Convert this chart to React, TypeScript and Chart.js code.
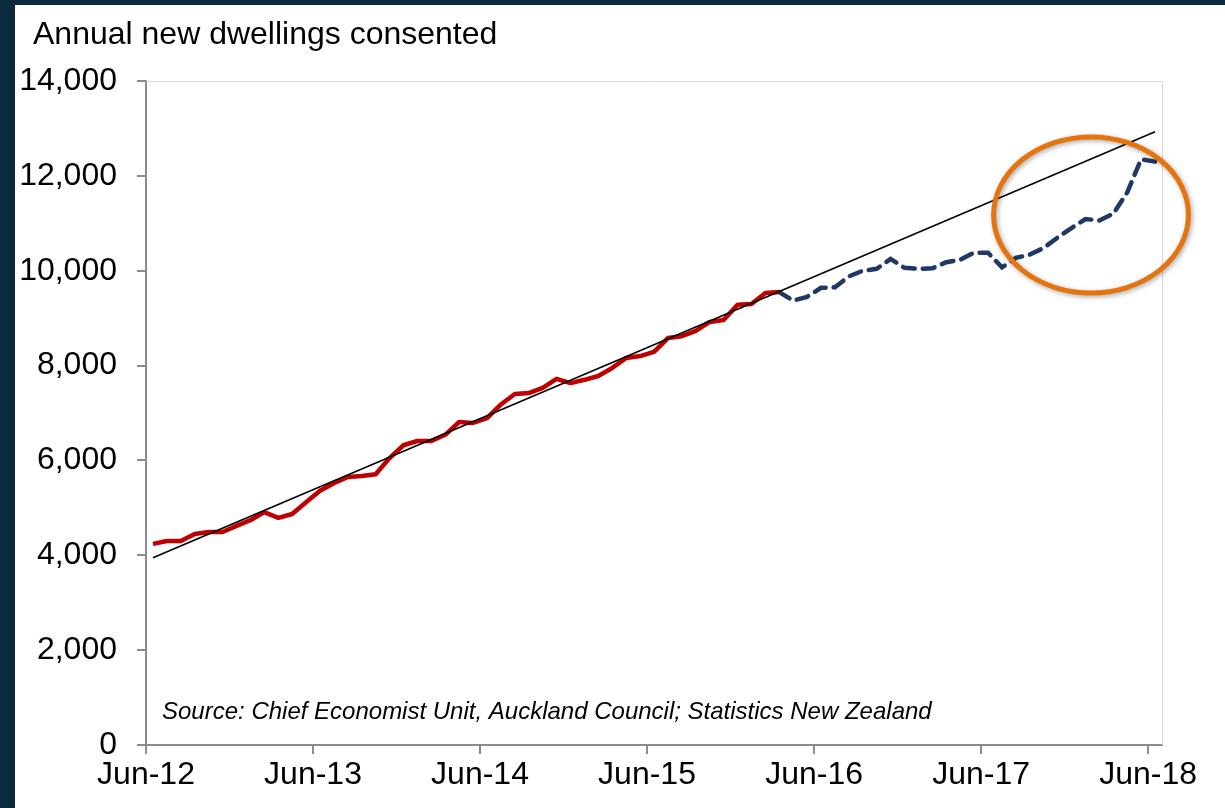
import React, { useEffect, useRef } from "react";
import { Chart, registerables } from "chart.js";

Chart.register(...registerables);

// ---------- data ----------
const TITLE = "Annual new dwellings consented";
const SOURCE = "Source: Chief Economist Unit, Auckland Council; Statistics New Zealand";

// months counted from Jun-12 (0); each month's value sits in the middle of its slot
const X_TICK_MONTHS = [0, 12, 24, 36, 48, 60, 72];
const X_TICK_LABELS = ["Jun-12", "Jun-13", "Jun-14", "Jun-15", "Jun-16", "Jun-17", "Jun-18"];
const Y_TICKS = [0, 2000, 4000, 6000, 8000, 10000, 12000, 14000];

const ACTUAL_START = 0;
const ACTUAL_VALUES = [
  4240, 4300, 4300, 4450, 4490, 4490, 4620, 4740, 4910, 4790, 4870, 5120,
  5360, 5520, 5650, 5670, 5710, 6050, 6320, 6410, 6410, 6540, 6810, 6790,
  6890, 7180, 7400, 7420, 7530, 7720, 7630, 7700, 7780, 7950, 8160, 8200,
  8290, 8580, 8620, 8730, 8920, 8960, 9280, 9300, 9530, 9550,
];

const RECENT_START = 45;
const RECENT_VALUES = [
  9550, 9370, 9450, 9640, 9650, 9880, 10000, 10040, 10250, 10060, 10040, 10050,
  10180, 10230, 10380, 10380, 10070, 10270, 10340, 10480, 10700, 10900, 11090, 11060,
  11200, 11650, 12350, 12300,
];

const TREND_MONTHS = [0.5, 72.5];
const TREND_VALUES = [3950, 12930];

// highlight ellipse (data coordinates)
const HIGHLIGHT_MONTH = 67.9;
const HIGHLIGHT_VALUE = 11175;
const HIGHLIGHT_MONTH_RADIUS = 7.0;
const HIGHLIGHT_VALUE_RADIUS = 1645;

const FONT = '"Liberation Sans", Arial, Helvetica, sans-serif';

const toPoints = (start: number, values: number[]) =>
  values.map((v, i) => ({ x: start + i + 0.5, y: v }));

export default function App() {
  const canvasRef = useRef<HTMLCanvasElement | null>(null);

  useEffect(() => {
    const canvas = canvasRef.current;
    if (!canvas) return;

    const overlay = {
      id: "overlay",
      beforeDatasetsDraw(chart: any) {
        const { ctx, chartArea } = chart;
        ctx.save();
        ctx.strokeStyle = "#d9d9d9";
        ctx.lineWidth = 1;
        ctx.beginPath();
        ctx.moveTo(chartArea.left, chartArea.top + 0.5);
        ctx.lineTo(chartArea.right + 0.5, chartArea.top + 0.5);
        ctx.lineTo(chartArea.right + 0.5, chartArea.bottom);
        ctx.stroke();
        ctx.restore();
      },
      afterDraw(chart: any) {
        const { ctx, scales } = chart;
        const x = scales.x;
        const y = scales.y;
        ctx.save();
        ctx.fillStyle = "#000";
        ctx.textAlign = "left";
        ctx.textBaseline = "alphabetic";
        ctx.font = `32px ${FONT}`;
        ctx.fillText(TITLE, 18, 39);
        ctx.font = `italic 24px ${FONT}`;
        ctx.fillText(SOURCE, 147, 714);

        const cx = x.getPixelForValue(HIGHLIGHT_MONTH);
        const cy = y.getPixelForValue(HIGHLIGHT_VALUE);
        const rx = x.getPixelForValue(HIGHLIGHT_MONTH + HIGHLIGHT_MONTH_RADIUS) - cx;
        const ry = cy - y.getPixelForValue(HIGHLIGHT_VALUE + HIGHLIGHT_VALUE_RADIUS);
        ctx.shadowColor = "rgba(0,0,0,0.35)";
        ctx.shadowBlur = 5;
        ctx.shadowOffsetX = 1.5;
        ctx.shadowOffsetY = 1.5;
        ctx.strokeStyle = "#E5740F";
        ctx.lineWidth = 5;
        ctx.beginPath();
        ctx.ellipse(cx, cy, rx, ry, 0, 0, Math.PI * 2);
        ctx.stroke();
        ctx.restore();
      },
    };

    const chart = new Chart(canvas, {
      type: "line",
      data: {
        datasets: [
          {
            label: "Trend",
            data: TREND_MONTHS.map((m, i) => ({ x: m, y: TREND_VALUES[i] })),
            borderColor: "#000000",
            borderWidth: 1.6,
            pointRadius: 0,
            tension: 0,
          },
          {
            label: "Actual",
            data: toPoints(ACTUAL_START, ACTUAL_VALUES),
            borderColor: "#C00000",
            borderWidth: 4.5,
            pointRadius: 0,
            tension: 0,
            borderJoinStyle: "round",
          },
          {
            label: "Recent",
            data: toPoints(RECENT_START, RECENT_VALUES),
            borderColor: "#1F3864",
            borderWidth: 4.5,
            borderDash: [12, 8],
            borderCapStyle: "round",
            pointRadius: 0,
            tension: 0,
          },
        ],
      },
      options: {
        animation: false,
        responsive: false,
        devicePixelRatio: 1,
        layout: { padding: { top: 76, right: 63, left: 0, bottom: 0 } },
        plugins: {
          legend: { display: false },
          tooltip: { enabled: false },
          title: { display: false },
        },
        scales: {
          x: {
            type: "linear",
            min: 0,
            max: 73,
            afterFit(scale: any) {
              scale.height = 63;
            },
            afterBuildTicks(scale: any) {
              scale.ticks = X_TICK_MONTHS.map((v) => ({ value: v }));
            },
            ticks: {
              autoSkip: false,
              maxRotation: 0,
              padding: 2,
              color: "#000",
              font: { family: FONT, size: 32 },
              callback: (v: any) => {
                const i = X_TICK_MONTHS.indexOf(Number(v));
                return i >= 0 ? X_TICK_LABELS[i] : "";
              },
            },
            grid: {
              display: true,
              drawOnChartArea: false,
              drawTicks: true,
              tickLength: 9,
              color: "#8c8c8c",
              lineWidth: 2,
            },
            border: { display: true, color: "#8c8c8c", width: 2 },
          },
          y: {
            type: "linear",
            min: 0,
            max: 14000,
            afterFit(scale: any) {
              scale.width = 131;
            },
            afterBuildTicks(scale: any) {
              scale.ticks = Y_TICKS.map((v) => ({ value: v }));
            },
            ticks: {
              padding: 20,
              color: "#000",
              font: { family: FONT, size: 32 },
              callback: (v: any) => Number(v).toLocaleString("en-US"),
            },
            grid: {
              display: true,
              drawOnChartArea: false,
              drawTicks: true,
              tickLength: 9,
              color: "#8c8c8c",
              lineWidth: 2,
            },
            border: { display: true, color: "#8c8c8c", width: 2 },
          },
        },
      },
      plugins: [overlay],
    });

    return () => chart.destroy();
  }, []);

  return (
    <div
      style={{
        position: "fixed",
        left: 0,
        top: 0,
        width: 1225,
        height: 808,
        background: "#0b2a3e",
        overflow: "hidden",
      }}
    >
      <div
        style={{
          position: "absolute",
          left: 15,
          top: 5,
          width: 1210,
          height: 803,
          background: "#ffffff",
        }}
      >
        <canvas
          ref={canvasRef}
          width={1210}
          height={803}
          style={{ display: "block", width: 1210, height: 803 }}
        />
      </div>
    </div>
  );
}
